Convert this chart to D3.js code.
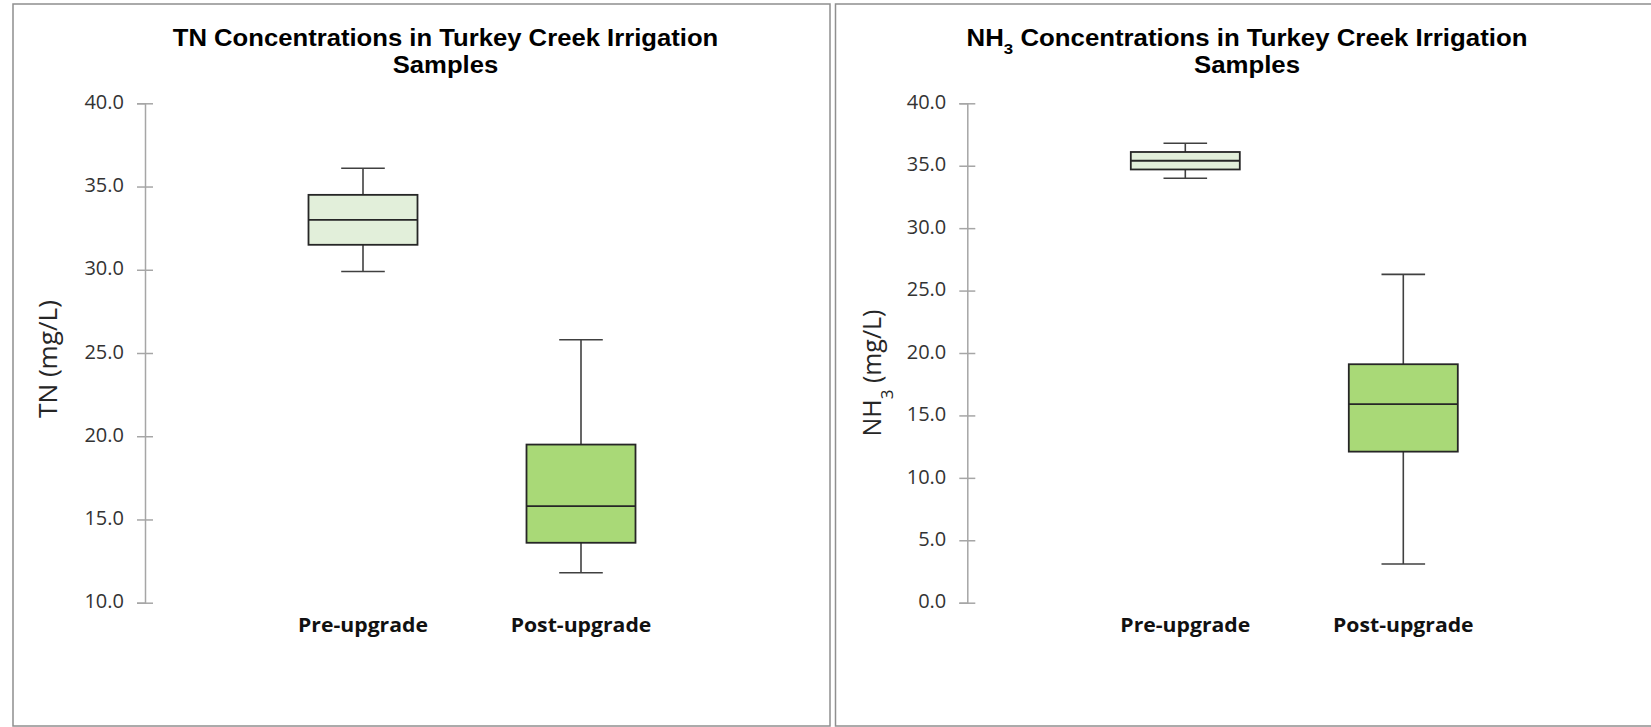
<!DOCTYPE html>
<html>
<head>
<meta charset="utf-8">
<script src="https://cdn.jsdelivr.net/npm/d3@7"></script>
<style>
  html, body { margin: 0; padding: 0; background: #ffffff; }
  svg { display: block; }
</style>
</head>
<body>
<svg id="chart" width="1651" height="727"></svg>
<script>
// ---- data -------------------------------------------------------------
const categories = ["Pre-upgrade", "Post-upgrade"];

// Total nitrogen (mg/L): five-number summaries per period
const tnMin    = [29.9, 11.8];
const tnQ1     = [31.5, 13.6];
const tnMedian = [33.0, 15.8];
const tnQ3     = [34.5, 19.5];
const tnMax    = [36.1, 25.8];
const tnTicks  = [10, 15, 20, 25, 30, 35, 40];

// Ammonia (mg/L): five-number summaries per period
const nh3Min    = [34.0, 3.1];
const nh3Q1     = [34.7, 12.1];
const nh3Median = [35.4, 15.9];
const nh3Q3     = [36.1, 19.1];
const nh3Max    = [36.8, 26.3];
const nh3Ticks  = [0, 5, 10, 15, 20, 25, 30, 35, 40];

const boxFills = ["#e2efda", "#a9d977"];

// ---- helpers ----------------------------------------------------------
const svg = d3.select("#chart");

// Stretch/compress a centred text horizontally (in its own frame) to a target width
function fitText(sel, target, cx, cy, angle, kOverride) {
  const w = sel.node().getComputedTextLength();
  const k = kOverride != null ? kOverride : target / w;
  sel.attr("x", 0).attr("y", 0)
     .attr("transform", `translate(${cx},${cy}) rotate(${angle || 0}) scale(${k},1)`);
  return k;
}

function drawPanel(cfg) {
  const g = svg.append("g");

  // panel frame
  g.append("rect")
    .attr("x", cfg.frame[0]).attr("y", cfg.frame[1])
    .attr("width", cfg.frame[2] - cfg.frame[0])
    .attr("height", cfg.frame[3] - cfg.frame[1])
    .attr("fill", "#ffffff")
    .attr("stroke", "#8f8f8f")
    .attr("stroke-width", 1.5);

  const y = d3.scaleLinear()
    .domain([cfg.ticks[0], cfg.ticks[cfg.ticks.length - 1]])
    .range([602.7, 103.3]);

  const x = d3.scalePoint()
    .domain(categories)
    .range([cfg.axisX, cfg.axisX + 654])
    .padding(1);

  // y axis with ticks crossing the axis line
  const axis = g.append("g")
    .attr("transform", `translate(${cfg.axisX},0)`)
    .call(d3.axisLeft(y).tickValues(cfg.ticks).tickSizeOuter(0).tickSize(8)
      .tickFormat(d3.format(".1f")));
  axis.select(".domain").attr("stroke", "#a6a6a6").attr("stroke-width", 1.5);
  axis.selectAll(".tick line")
    .attr("x1", -8).attr("x2", 8)
    .attr("stroke", "#a6a6a6").attr("stroke-width", 1.5);
  axis.selectAll(".tick text")
    .attr("x", -21)
    .attr("dy", "0.26em")
    .attr("fill", "#333333")
    .style("font-family", "'Open Sans', sans-serif")
    .style("font-size", "20px");

  // boxes and whiskers
  const boxW = x.step() * 0.5;
  const capW = x.step() * 0.2;
  const rows = categories.map((c, i) => ({
    c, i, min: cfg.min[i], q1: cfg.q1[i], med: cfg.median[i], q3: cfg.q3[i], max: cfg.max[i]
  }));

  const bx = g.selectAll(".bx").data(rows).join("g").attr("class", "bx");
  const wStroke = "#404040";

  // whisker stems
  bx.append("line")
    .attr("x1", d => x(d.c)).attr("x2", d => x(d.c))
    .attr("y1", d => y(d.max)).attr("y2", d => y(d.q3))
    .attr("stroke", wStroke).attr("stroke-width", 1.6);
  bx.append("line")
    .attr("x1", d => x(d.c)).attr("x2", d => x(d.c))
    .attr("y1", d => y(d.q1)).attr("y2", d => y(d.min))
    .attr("stroke", wStroke).attr("stroke-width", 1.6);
  // whisker caps
  bx.append("line")
    .attr("x1", d => x(d.c) - capW / 2).attr("x2", d => x(d.c) + capW / 2)
    .attr("y1", d => y(d.max)).attr("y2", d => y(d.max))
    .attr("stroke", wStroke).attr("stroke-width", 1.6);
  bx.append("line")
    .attr("x1", d => x(d.c) - capW / 2).attr("x2", d => x(d.c) + capW / 2)
    .attr("y1", d => y(d.min)).attr("y2", d => y(d.min))
    .attr("stroke", wStroke).attr("stroke-width", 1.6);
  // interquartile box
  bx.append("rect")
    .attr("x", d => x(d.c) - boxW / 2)
    .attr("y", d => y(d.q3))
    .attr("width", boxW)
    .attr("height", d => y(d.q1) - y(d.q3))
    .attr("fill", d => boxFills[d.i])
    .attr("stroke", "#262626").attr("stroke-width", 1.8);
  // median
  bx.append("line")
    .attr("x1", d => x(d.c) - boxW / 2).attr("x2", d => x(d.c) + boxW / 2)
    .attr("y1", d => y(d.med)).attr("y2", d => y(d.med))
    .attr("stroke", "#262626").attr("stroke-width", 1.8);

  // category labels
  let kCat = null;
  categories.forEach((c, i) => {
    const t = g.append("text")
      .attr("text-anchor", "middle")
      .attr("fill", "#111111")
      .style("font-family", "'Open Sans', sans-serif")
      .style("font-weight", "700")
      .style("font-size", "19.5px")
      .text(c);
    const k = fitText(t, 130, x(c), 632.3, 0, kCat);
    if (kCat == null) kCat = k;
  });

  // y-axis title (rotated)
  const yl = g.append("text")
    .attr("text-anchor", "middle")
    .attr("fill", "#262626")
    .style("font-family", "'Open Sans', sans-serif")
    .style("font-size", "25px");
  cfg.yLabel(yl);
  fitText(yl, cfg.yLabelLen, cfg.yLabelX, cfg.yLabelY, -90);

  // chart title, two lines
  const tStyle = s => s.attr("text-anchor", "middle")
    .attr("fill", "#000000")
    .style("font-family", "'Liberation Sans Narrow', 'Arial Narrow', 'Liberation Sans', Arial, sans-serif")
    .style("font-weight", "700")
    .style("font-size", "23px");
  const t1 = g.append("text").call(tStyle);
  cfg.title(t1);
  const kT = fitText(t1, cfg.titleWidth, cfg.titleX, 46, 0);
  const t2 = g.append("text").call(tStyle).text("Samples");
  fitText(t2, null, cfg.titleX, 73.3, 0, kT);
}

drawPanel({
  frame: [13, 4, 830, 726],
  axisX: 145,
  ticks: tnTicks,
  min: tnMin, q1: tnQ1, median: tnMedian, q3: tnQ3, max: tnMax,
  yLabel: t => t.text("TN (mg/L)"),
  yLabelLen: 118, yLabelX: 57.3, yLabelY: 359,
  title: t => t.text("TN Concentrations in Turkey Creek Irrigation"),
  titleWidth: 545.6, titleX: 445.5
});

drawPanel({
  frame: [835.5, 4, 1652, 726],
  axisX: 967.3,
  ticks: nh3Ticks,
  min: nh3Min, q1: nh3Q1, median: nh3Median, q3: nh3Q3, max: nh3Max,
  yLabel: t => {
    t.append("tspan").text("NH");
    t.append("tspan").attr("baseline-shift", "sub").style("font-size", "17px").text("3");
    t.append("tspan").text(" (mg/L)");
  },
  yLabelLen: 127, yLabelX: 881.3, yLabelY: 373,
  title: t => {
    t.append("tspan").text("NH");
    t.append("tspan").attr("baseline-shift", "sub").style("font-size", "15px").text("3");
    t.append("tspan").text(" Concentrations in Turkey Creek Irrigation");
  },
  titleWidth: 561, titleX: 1247
});
</script>
</body>
</html>
